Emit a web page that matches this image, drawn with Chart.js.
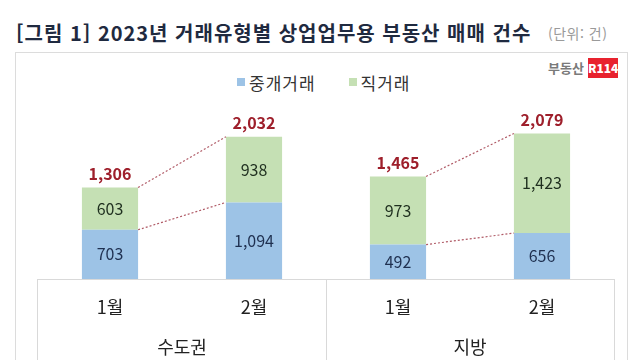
<!DOCTYPE html>
<html lang="ko">
<head>
<meta charset="utf-8">
<script src="https://cdn.jsdelivr.net/npm/chart.js@4"></script>
<style>
  body { margin: 0; background: #fff; font-family: "Noto Sans CJK KR", "Noto Sans", sans-serif; }
  #wrap { position: relative; width: 640px; height: 360px; overflow: hidden; }
  #titulo { position: absolute; left: 16px; top: 19px; font-size: 20px; line-height: 28px; font-weight: bold; color: #1f2a40; letter-spacing: 1px; white-space: nowrap; }
  #unidad { position: absolute; left: 548px; top: 23px; font-size: 14px; line-height: 20px; color: #9a9a9a; white-space: nowrap; letter-spacing: 0.5px; }
  #marco { position: absolute; left: 15px; top: 52px; width: 613px; height: 320px; border: 1px solid #dcdcdc; box-sizing: border-box; }
  #leyenda { position: absolute; top: 71px; left: 237px; font-size: 17px; line-height: 24px; color: #333; white-space: nowrap; letter-spacing: 1px; }
  #leyenda span.sq { display: inline-block; width: 8px; height: 8px; margin-right: 4px; vertical-align: 4px; }
  #logo { position: absolute; left: 548px; top: 58px; height: 20px; font-size: 13px; line-height: 20px; color: #7a7a7a; font-weight: bold; white-space: nowrap; letter-spacing: 0px; }
  #logo b { display: inline-block; background: #e8222e; color: #fff; width: 30px; text-align: center; margin-left: 4px; font-size: 12px; line-height: 20px; letter-spacing: 0; }
  canvas { position: absolute; left: 0; top: 0; }
</style>
</head>
<body>
<div id="wrap">
  <div id="titulo">[그림 1] 2023년 거래유형별 상업업무용 부동산 매매 건수</div>
  <div id="unidad">(단위: 건)</div>
  <div id="marco"></div>
  <div id="leyenda"><span class="sq" style="background:#9dc3e6"></span>중개거래<span style="display:inline-block;width:33px"></span><span class="sq" style="background:#c5e0b4"></span>직거래</div>
  <div id="logo">부동산<b>R114</b></div>
  <canvas id="grafica" width="640" height="360"></canvas>
</div>
<script>
//Datos de la grafica
const meses = ['1월', '2월', '1월', '2월'];
const regiones = ['수도권', '지방'];
const intermediado = [703, 1094, 492, 656];
const directo = [603, 938, 973, 1423];
const totales = [1306, 2032, 1465, 2079];

const azul = '#9dc3e6';
const verde = '#c5e0b4';
const fuente = '"Noto Sans CJK KR", "Noto Sans", sans-serif';

//Plugin que dibuja etiquetas, lineas punteadas y la caja del eje
const extras = {
    id: 'extras',
    afterDatasetsDraw(chart) {
        const ctx = chart.ctx;
        const x = chart.scales.x;
        const y = chart.scales.y;
        const area = chart.chartArea;
        const m0 = chart.getDatasetMeta(0);
        ctx.save();

        //Lineas punteadas entre barras de cada region
        ctx.strokeStyle = '#b05a66';
        ctx.lineWidth = 1.2;
        ctx.setLineDash([2, 2]);
        for (let g = 0; g < 2; g++) {
            const a = g * 2, b = g * 2 + 1;
            const wa = m0.data[a].width / 2, wb = m0.data[b].width / 2;
            [[intermediado[a], intermediado[b]], [totales[a], totales[b]]].forEach(function(par) {
                ctx.beginPath();
                ctx.moveTo(x.getPixelForValue(a) + wa, y.getPixelForValue(par[0]));
                ctx.lineTo(x.getPixelForValue(b) - wb, y.getPixelForValue(par[1]));
                ctx.stroke();
            });
        }
        ctx.setLineDash([]);

        //Valores dentro de los segmentos y totales
        ctx.textAlign = 'center';
        ctx.textBaseline = 'middle';
        for (let i = 0; i < meses.length; i++) {
            const cx = x.getPixelForValue(i);
            ctx.font = '16px ' + fuente;
            ctx.fillStyle = '#1f3050';
            ctx.fillText(intermediado[i].toLocaleString('en-US'), cx, (y.getPixelForValue(0) + y.getPixelForValue(intermediado[i])) / 2);
            ctx.fillStyle = '#1f2f1f';
            ctx.fillText(directo[i].toLocaleString('en-US'), cx, (y.getPixelForValue(intermediado[i]) + y.getPixelForValue(totales[i])) / 2);
            ctx.fillStyle = '#9e1f2b';
            ctx.font = 'bold 16px ' + fuente;
            ctx.fillText(totales[i].toLocaleString('en-US'), cx, y.getPixelForValue(totales[i]) - 14);
        }

        //Caja del eje de categorias
        ctx.strokeStyle = '#d9d9d9';
        ctx.lineWidth = 1;
        const base = Math.round(y.getPixelForValue(0)) + 0.5;
        const medio = Math.round((x.getPixelForValue(1) + x.getPixelForValue(2)) / 2) + 0.5;
        ctx.beginPath();
        ctx.moveTo(area.left - 1, base); ctx.lineTo(area.right + 1, base);
        ctx.moveTo(area.left - 0.5, base); ctx.lineTo(area.left - 0.5, 360);
        ctx.moveTo(medio, base); ctx.lineTo(medio, 360);
        ctx.moveTo(area.right + 0.5, base); ctx.lineTo(area.right + 0.5, 360);
        ctx.stroke();

        //Nombres de region
        ctx.fillStyle = '#222';
        ctx.font = '18px ' + fuente;
        for (let g = 0; g < regiones.length; g++) {
            const cx = (x.getPixelForValue(g * 2) + x.getPixelForValue(g * 2 + 1)) / 2;
            ctx.fillText(regiones[g], cx, 347);
        }
        ctx.restore();
    }
};

const config = {
    type: 'bar',
    data: {
        labels: meses,
        datasets: [{
            label: '중개거래',
            data: intermediado,
            backgroundColor: azul,
            categoryPercentage: 1,
            barPercentage: 0.39
        }, {
            label: '직거래',
            data: directo,
            backgroundColor: verde,
            categoryPercentage: 1,
            barPercentage: 0.39
        }]
    },
    options: {
        responsive: false,
        animation: false,
        layout: { padding: { left: 38, right: 26, top: 104, bottom: 0 } },
        scales: {
            x: {
                stacked: true,
                grid: { display: false, drawTicks: false },
                border: { display: false },
                ticks: { color: '#222', font: { size: 18, family: fuente }, padding: 17 },
                afterFit: function(scale) { scale.height = 81; }
            },
            y: {
                stacked: true,
                display: false,
                min: 0,
                max: 2500
            }
        },
        plugins: {
            legend: { display: false },
            tooltip: { enabled: false }
        }
    },
    plugins: [extras]
};

const miGrafica = new Chart(document.getElementById('grafica'), config);
</script>
</body>
</html>
